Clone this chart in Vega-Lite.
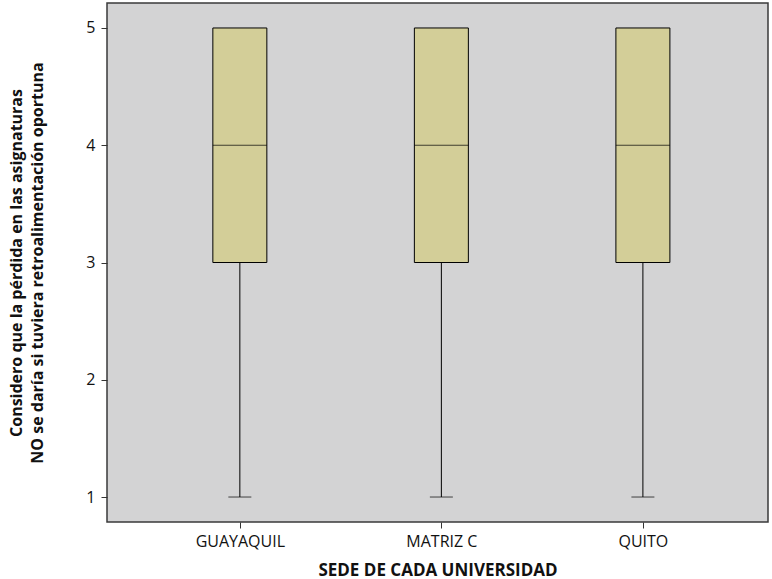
{
  "$schema": "https://vega.github.io/schema/vega-lite/v6.json",
  "width": 661,
  "height": 519,
  "autosize": {"type": "none"},
  "padding": {"left": 107, "top": 3, "right": 4, "bottom": 57},
  "background": "white",
  "config": {
    "view": {"fill": "#d3d3d4", "stroke": "#3a3a3a", "strokeWidth": 1.5},
    "font": "Open Sans",
    "axis": {"labelFont": "Open Sans", "titleFont": "Open Sans", "labelColor": "#111", "titleColor": "#111", "tickColor": "#333", "grid": false, "domain": false}
  },
  "data": {
    "values": [
      {"sede": "GUAYAQUIL", "min": 1, "q1": 3, "median": 4, "q3": 5, "max": 5},
      {"sede": "MATRIZ C", "min": 1, "q1": 3, "median": 4, "q3": 5, "max": 5},
      {"sede": "QUITO", "min": 1, "q1": 3, "median": 4, "q3": 5, "max": 5}
    ]
  },
  "encoding": {
    "x": {
      "field": "sede", "type": "nominal",
      "scale": {"type": "point", "padding": 0.64, "align": 0.515},
      "axis": {"title": "SEDE DE CADA UNIVERSIDAD", "labelAngle": 0, "labelFontSize": 16, "titleFontSize": 17, "titleFontWeight": "bold", "tickSize": 6, "labelPadding": 5, "titlePadding": 13}
    }
  },
  "layer": [
    {
      "mark": {"type": "rule", "color": "black", "strokeWidth": 1},
      "encoding": {
        "y": {"field": "min", "type": "quantitative", "scale": {"domain": [0.787, 5.213], "nice": false, "zero": false},
          "axis": {"values": [1, 2, 3, 4, 5], "format": "d", "title": ["Considero que la pérdida en las asignaturas", "NO se daría si tuviera retroalimentación oportuna"], "labelFontSize": 16, "titleFontSize": 16, "titleFontWeight": "bold", "titleLineHeight": 21, "tickSize": 6, "labelPadding": 6, "titlePadding": 40}},
        "y2": {"field": "q1"}
      }
    },
    {
      "mark": {"type": "bar", "size": 54, "fill": "#d3ce98", "stroke": "black", "strokeWidth": 1},
      "encoding": {
        "y": {"field": "q1", "type": "quantitative"},
        "y2": {"field": "q3"}
      }
    },
    {
      "mark": {"type": "tick", "size": 54, "color": "black", "thickness": 1, "orient": "horizontal"},
      "encoding": {"y": {"field": "median", "type": "quantitative"}}
    },
    {
      "mark": {"type": "tick", "size": 23, "color": "black", "thickness": 1, "orient": "horizontal"},
      "encoding": {"y": {"field": "min", "type": "quantitative"}}
    }
  ]
}
